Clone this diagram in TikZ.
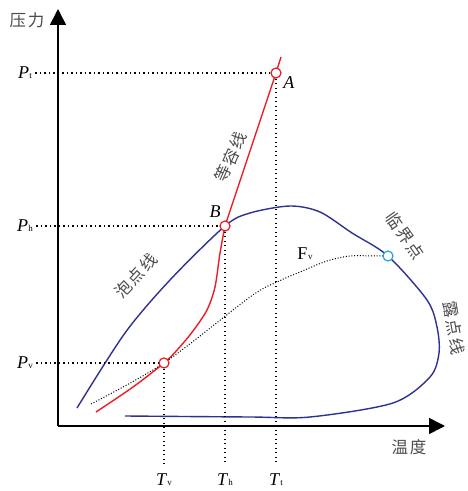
\documentclass[tikz,border=0pt]{standalone}
\usepackage{fontspec}
\setmainfont{Liberation Serif}
\newfontfamily\cjk[LetterSpace=12]{Noto Sans CJK SC}
\usetikzlibrary{arrows.meta}
\definecolor{diagblue}{HTML}{2E3192}
\definecolor{diagred}{HTML}{ED1C24}
\definecolor{diagcyan}{HTML}{1FA8E0}
\newcommand\symb[2]{\textit{#1}\kern0.3pt{\fontsize{9}{9}\selectfont #2}}

\begin{document}
\begin{tikzpicture}[x=1pt,y=1pt,font=\fontsize{18}{20}\selectfont,
  ring/.style={circle,draw=diagred,fill=white,line width=1.2pt,inner sep=0pt,minimum size=10pt},
  guide/.style={line width=1.3pt,dash pattern=on 1.3pt off 3.2pt},
  cn/.style={font=\cjk\fontsize{16.5}{17}\selectfont,text=black!70},
  ax/.style={line width=1.6pt,-{Triangle[length=16pt,width=16pt]}},
  curve/.style={line width=1.4pt}]
\useasboundingbox (0,0) rectangle (467,491);

% key points
\coordinate (pA) at (276,418);
\coordinate (pB) at (225,265);
\coordinate (pV) at (164,128);
\coordinate (pK) at (388,235);
\coordinate (O) at (58,65);
\coordinate (ytop) at (58,482);
\coordinate (xend) at (445,65);

% axes
\draw[ax] (O) -- (ytop);
\draw[ax] (O) -- (xend);
\node[cn] (ylab) at (27,471) {压力};
\node[cn] (xlab) at (409,44) {温度};

% phase envelope
\draw[diagblue,curve] plot[smooth] coordinates {(77,83) (125,158) (170,211) (pB) (250,278) (290,285)
  (320,279) (352,258) (pK) (427,191) (437,164) (439,138) (430,114) (393,88) (310,74) (250,74) (125,75)};

% isochore
\draw[diagred,curve] (281,434) -- (pA) -- (pB);
\draw[diagred,curve] plot[smooth] coordinates {(pB) (220,238) (215,204) (207,181) (193,160) (178,142) (pV) (133,104) (96,79)};

% F_v
\draw[line width=1pt,dash pattern=on 1pt off 1.8pt] plot[smooth] coordinates {(91,87) (pV) (250,194) (277,209)
  (300,219) (327,230) (350,235) (375,235) (pK)};

% state points
\node[ring] (A) at (pA) {};
\node[ring] (B) at (pB) {};
\node[ring] (V) at (pV) {};
\node[ring,draw=diagcyan] (K) at (pK) {};
\node (Alab) at (289,408) {\textit{A}};
\node (Blab) at (215,279) {\textit{B}};

% axis labels
\node (Pt) at (25,418) {\symb{P}{t}};
\node (Ph) at (25,265) {\symb{P}{h}};
\node (Pv) at (25,128) {\symb{P}{v}};
\node (Tv) at (164,11) {\symb{T}{v}};
\node (Th) at (225,11) {\symb{T}{h}};
\node (Tt) at (276,11) {\symb{T}{t}};

% guides
\draw[guide] (Pt) -- (A);
\draw[guide] (Ph) -- (B);
\draw[guide] (Pv) -- (V);
\draw[guide,shorten >=5pt] (A) -- (Tt);
\draw[guide,shorten >=5pt] (B) -- (Th);
\draw[guide,shorten >=5pt] (V) -- (Tv);

% curve names
\node[cn,rotate=66] (iso) at (231,334) {等容线};
\node[cn,rotate=47] (bub) at (136,215) {泡点线};
\node[cn,rotate=-55] (crit) at (405,255) {临界点};
\node[cn,rotate=-80] (dew) at (454,163) {露点线};
\node (Fv) at (305,237) {F\kern0.5pt{\fontsize{9}{9}\selectfont v}};

\end{tikzpicture}
\end{document}
